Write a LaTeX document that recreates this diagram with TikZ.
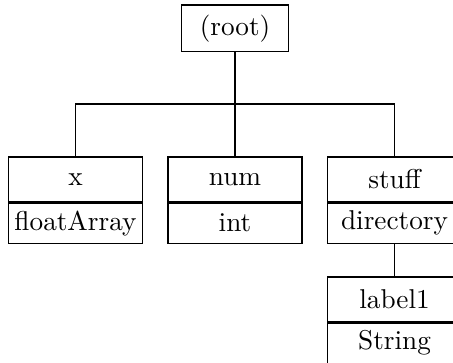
\documentclass[tikz,border=0pt]{standalone}
\usepackage{tikz}

\begin{document}
\begin{tikzpicture}[x=0.367pt,y=-0.367pt,
		namebox/.style={draw,minimum width=49.2pt,minimum height=16.5pt,inner sep=0pt},
		typebox/.style={draw,minimum width=49.2pt,minimum height=14.7pt,inner sep=0pt}]
		\useasboundingbox (0,0) rectangle (453,363);

		\node (root) at (235,28.3) [draw,minimum width=39.3pt,minimum height=17.1pt,inner sep=0pt] {(root)};
		\coordinate (bus) at (235,104);

		\node (x) at (75.5,179.5) [namebox] {x};
		\node (xt) at (x.south) [typebox,anchor=north] {floatArray};
		\node (num) at (235,179.5) [namebox] {num};
		\node (numt) at (num.south) [typebox,anchor=north] {int};
		\node (stuff) at (394.5,179.5) [namebox] {stuff};
		\node (stufft) at (stuff.south) [typebox,anchor=north] {directory};
		\node (label) at (394.5,299.5) [namebox] {label1};
		\node (labelt) at (label.south) [typebox,anchor=north] {String};

		\draw (root.south) -- (bus);
		\draw (x.north) |- (bus) -| (stuff.north);
		\draw (num.north) -- (num.north |- bus);
		\draw (stufft.south) -- (label.north);

\end{tikzpicture}
\end{document}
